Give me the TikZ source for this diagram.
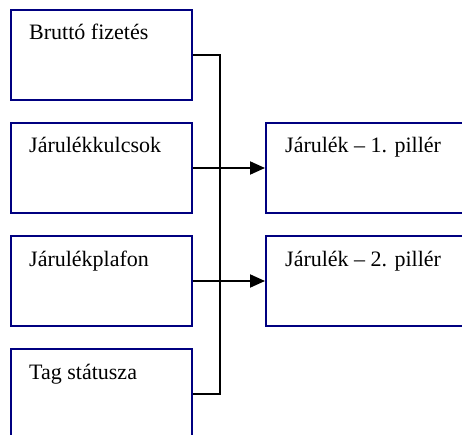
\documentclass[tikz,border=0pt]{standalone}
\usepackage{fontspec}
\setmainfont{Liberation Serif}
\usetikzlibrary{arrows.meta,calc}
\definecolor{boxnavy}{RGB}{0,0,128}
\begin{document}
\begin{tikzpicture}[x=1pt,y=-1pt,
  box/.style={draw=boxnavy,line width=2pt,rectangle,inner sep=0pt,
    minimum height=90pt,anchor=north west},
  inbox/.style={box,minimum width=181pt},
  outbox/.style={box,minimum width=230pt},
  caption/.style={anchor=base west,inner sep=0pt,font=\fontsize{22}{26}\selectfont},
  wire/.style={draw=black,line width=2pt,line join=miter},
  tip/.style={-{Triangle[length=15pt,width=13pt]}}]
  \useasboundingbox (0,0) rectangle (462,435);
  \clip (0,0) rectangle (462,435);

  % inputs on the left
  \node[inbox] (b1) at (10,9) {};
  \node[inbox] (b2) at (10,122) {};
  \node[inbox] (b3) at (10,235) {};
  \node[inbox] (b4) at (10,348) {};
  % results on the right
  \node[outbox] (r1) at (265,122) {};
  \node[outbox] (r2) at (265,235) {};

  \node[caption] (t1) at ($(b1.north west)+(19,31)$) {Bruttó fizetés};
  \node[caption] (t2) at ($(b2.north west)+(19,31)$) {Járulékkulcsok};
  \node[caption] (t3) at ($(b3.north west)+(19,31)$) {Járulékplafon};
  \node[caption] (t4) at ($(b4.north west)+(19,31)$) {Tag státusza};
  \node[caption] (t5) at ($(r1.north west)+(20,31)$) {Járulék – 1. pillér};
  \node[caption] (t6) at ($(r2.north west)+(20,31)$) {Járulék – 2. pillér};

  % collecting bus
  \coordinate (busx) at (220,0);
  \draw[wire] (b1.east) -- (b1.east -| busx) -- (b4.east -| busx) -- (b4.east);
  \draw[wire,tip] (b2.east) -- (r1.west);
  \draw[wire,tip] (b3.east) -- (r2.west);
\end{tikzpicture}
\end{document}
